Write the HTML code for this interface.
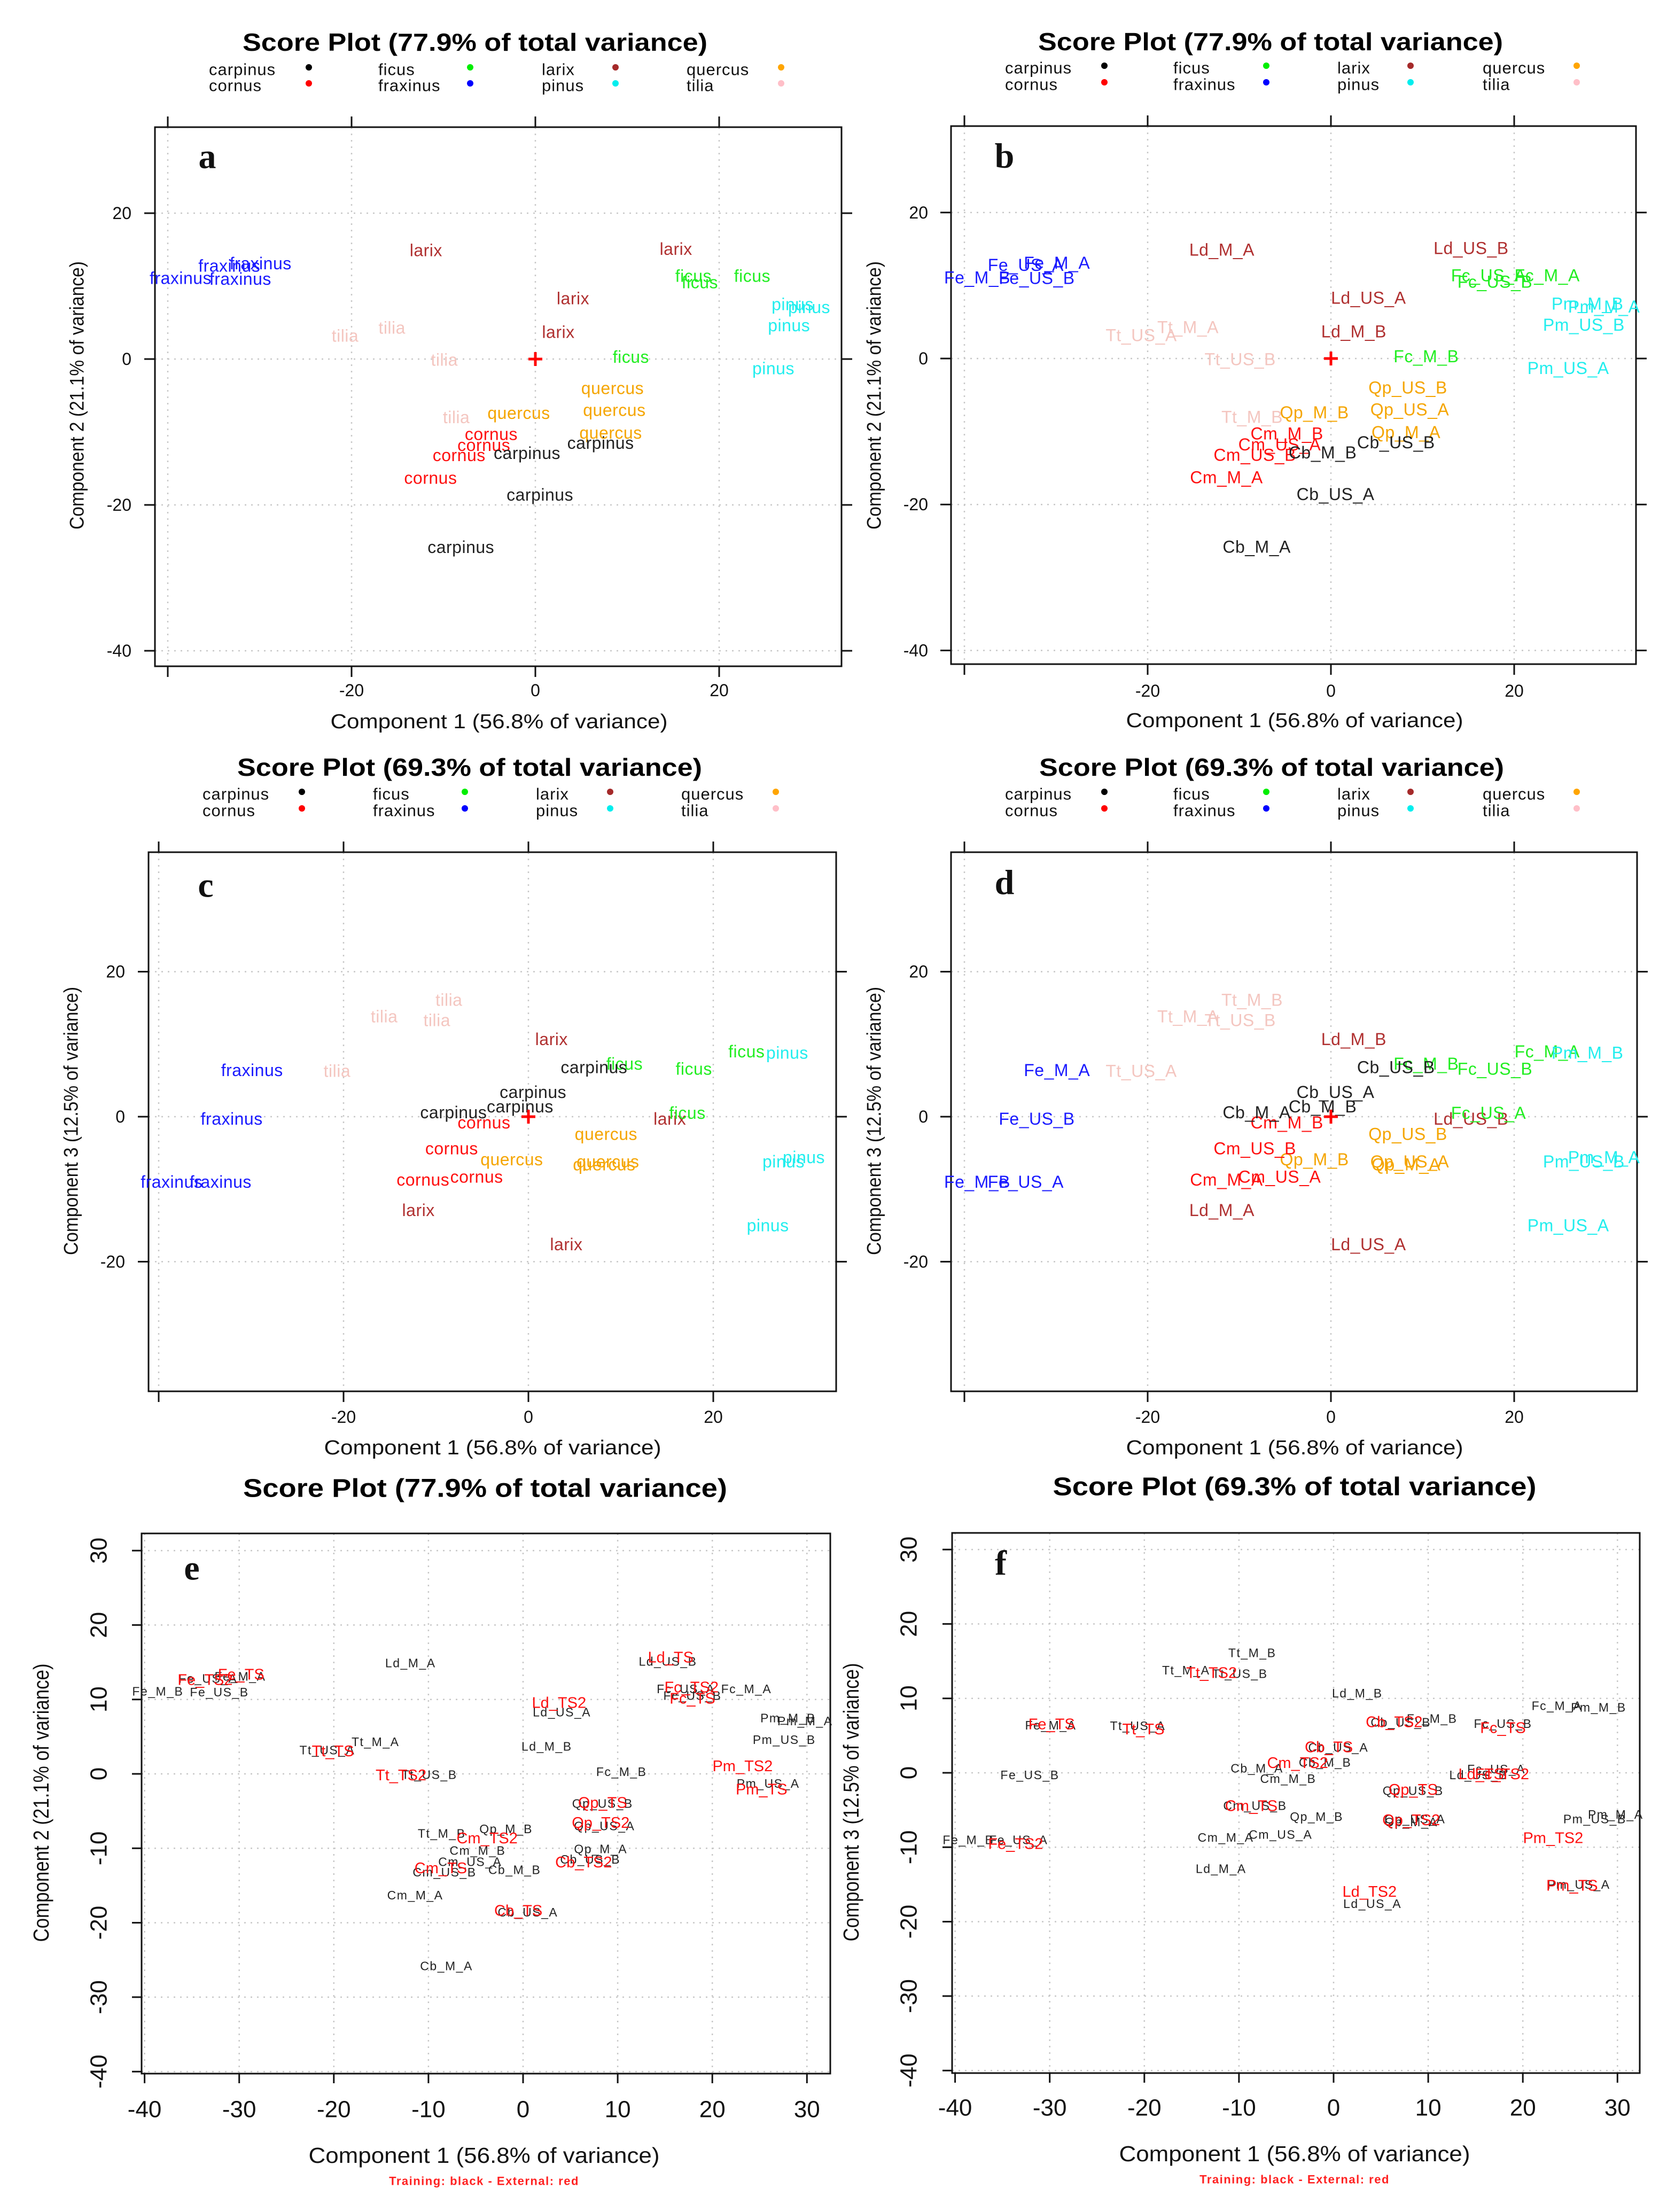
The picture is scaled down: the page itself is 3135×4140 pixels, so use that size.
<!DOCTYPE html>
<html><head><meta charset="utf-8"><style>
html,body{margin:0;padding:0;background:#fff;}
svg{display:block;font-family:"Liberation Sans",Arial,sans-serif;}
</style></head><body>
<svg id="fig" xmlns="http://www.w3.org/2000/svg" width="3135" height="4140" viewBox="0 0 3135 4140"></svg>
<script>
const codes=["Fe_M_B","Fe_US_B","Fe_US_A","Fe_M_A","Ld_M_A","Ld_US_B","Ld_US_A","Ld_M_B","Fc_US_A","Fc_US_B","Fc_M_A","Fc_M_B","Pm_M_B","Pm_M_A","Pm_US_B","Pm_US_A","Tt_US_A","Tt_M_A","Tt_US_B","Tt_M_B","Qp_M_B","Qp_US_B","Qp_US_A","Qp_M_A","Cm_M_B","Cm_US_A","Cm_US_B","Cm_M_A","Cb_M_B","Cb_US_B","Cb_US_A","Cb_M_A"];
const species=["fraxinus","fraxinus","fraxinus","fraxinus","larix","larix","larix","larix","ficus","ficus","ficus","ficus","pinus","pinus","pinus","pinus","tilia","tilia","tilia","tilia","quercus","quercus","quercus","quercus","cornus","cornus","cornus","cornus","carpinus","carpinus","carpinus","carpinus"];
const pc1=[-38.6,-32.1,-33.3,-29.9,-11.9,15.3,4.1,2.5,17.2,17.9,23.6,10.4,28.0,29.8,27.6,25.9,-20.7,-15.6,-9.9,-8.6,-1.8,8.4,8.6,8.2,-4.8,-5.6,-8.3,-11.4,-0.9,7.1,0.5,-8.1];
const pc2=[11.1,11.0,12.8,13.1,14.9,15.1,8.3,3.7,11.4,10.5,11.4,0.3,7.5,7.1,4.6,-1.3,3.2,4.3,-0.1,-8.0,-7.4,-4.0,-7.0,-10.1,-10.3,-11.8,-13.2,-16.3,-12.9,-11.5,-18.6,-25.8];
const pc3=[-9.0,-0.3,-9.0,6.4,-12.9,-0.3,-17.6,10.7,0.5,6.6,9.0,7.3,8.8,-5.6,-6.2,-15.0,6.3,13.8,13.3,16.1,-5.9,-2.4,-6.2,-6.6,-0.8,-8.3,-4.4,-8.7,1.4,6.8,3.4,0.6];
const extCodes=["Fe_TS","Fe_TS2","Ld_TS","Ld_TS2","Fc_TS2","Fc_TS","Tt_TS","Tt_TS2","Pm_TS2","Pm_TS","Qp_TS","Qp_TS2","Cm_TS2","Cm_TS","Cb_TS2","Cb_TS"];
const ext1=[-29.8,-33.6,15.6,3.8,17.8,17.9,-20.1,-12.9,23.2,25.2,8.4,8.2,-3.8,-8.7,6.4,-0.5];
const ext2=[13.3,12.6,15.6,9.5,11.6,10.1,3.0,-0.2,1.0,-2.1,-3.9,-6.6,-8.7,-12.7,-11.9,-18.4];
const ext3=[6.5,-9.6,-0.2,-16.0,-0.2,6.0,5.8,13.4,-8.8,-15.2,-2.3,-6.4,1.3,-4.5,6.8,3.4];
const legendNames=["carpinus","cornus","ficus","fraxinus","larix","pinus","quercus","tilia"];
const legendColors=["#000000","#ff0000","#00ee00","#0000ff","#a52a2a","#00eeee","#ffa500","#ffbfc8"];
const latticeTicks=[-40,-20,0,20];
const baseTicks=[-40,-30,-20,-10,0,10,20,30];

const NS="http://www.w3.org/2000/svg";
const svg=document.getElementById('fig');
function mk(tag,attrs,parent,txt){const e=document.createElementNS(NS,tag);for(const k in attrs)e.setAttribute(k,attrs[k]);if(txt!==undefined)e.textContent=txt;(parent||svg).appendChild(e);return e;}
const labelColor={carpinus:"#222",cornus:"#ff1010",ficus:"#22ee22",fraxinus:"#1a1aff",larix:"#b03030",pinus:"#22eeee",quercus:"#f5a500",tilia:"#f4c6c0"};

const panels=[
 {id:"a",L:290,R:1575,T:238,B:1247,x0:1002,xs:17.2,y0:672,ys:13.65,yt:[20,0,-20,-40],style:"lattice",ycomp:2,labels:"species",title:"Score Plot (77.9%  of total variance)",tx:889,ty:79,tw:870,legY:[130,160],legX:[391,708,1014,1285],dotX:[578,880,1152,1462],xlab:[934,1351],ylab:[144,740],ytlx:246,xtly:1292,letter:[388,293]},
 {id:"b",L:1780,R:3062,T:236,B:1243,x0:2491,xs:17.15,y0:671,ys:13.66,yt:[20,0,-20,-40],style:"lattice",ycomp:2,labels:"codes",title:"Score Plot (77.9%  of total variance)",tx:2378,ty:78,tw:870,legY:[127,158],legX:[1881,2196,2503,2775],dotX:[2067,2370,2640,2951],xlab:[2423,1349],ylab:[1636,740],ytlx:1737,xtly:1293,letter:[1880,292]},
 {id:"c",L:278,R:1565,T:1595,B:2604,x0:989,xs:17.3,y0:2090,ys:13.57,yt:[20,0,-20],style:"lattice",ycomp:3,labels:"species",title:"Score Plot (69.3%  of total variance)",tx:879,ty:1436,tw:870,legY:[1486,1517],legX:[379,698,1003,1275],dotX:[565,870,1142,1452],xlab:[922,2710],ylab:[133,2098],ytlx:234,xtly:2652,letter:[385,1657]},
 {id:"d",L:1780,R:3064,T:1595,B:2604,x0:2491,xs:17.15,y0:2090,ys:13.57,yt:[20,0,-20],style:"lattice",ycomp:3,labels:"codes",title:"Score Plot (69.3%  of total variance)",tx:2380,ty:1436,tw:870,legY:[1486,1517],legX:[1881,2196,2503,2775],dotX:[2067,2370,2640,2951],xlab:[2423,2710],ylab:[1636,2098],ytlx:1737,xtly:2652,letter:[1880,1652]},
 {id:"e",L:265,R:1554,T:2870,B:3881,x0:979,xs:17.71,y0:3320,ys:13.93,yt:baseTicks,style:"base",ycomp:2,labels:"ext",title:"Score Plot (77.9% of total variance)",tx:908,ty:2786,tw:906,xlab:[906,4034],ylab:[77,3374],ytlx:185,xtly:3948,letter:[359,2935]},
 {id:"f",L:1782,R:3069,T:2869,B:3880,x0:2496,xs:17.71,y0:3318,ys:13.93,yt:baseTicks,style:"base",ycomp:3,labels:"ext",title:"Score Plot (69.3% of total variance)",tx:2423,ty:2783,tw:905,xlab:[2423,4031],ylab:[1593,3373],ytlx:1701,xtly:3945,letter:[1873,2926]}
];

panels.forEach(p=>{
  const g=mk('g',{});
  
  
  const X=v=>p.x0+v*p.xs, Y=v=>p.y0-v*p.ys;
  const lat=p.style==="lattice";
  const xt=lat?latticeTicks:baseTicks;
  const t=mk('text',{x:p.tx,y:p.ty,'text-anchor':'middle','dominant-baseline':'central','font-size':lat?46:48,'font-weight':'bold',fill:'#000',textLength:p.tw,lengthAdjust:'spacingAndGlyphs'},g,p.title);
  
  
  if(p.legX){
    legendNames.forEach((n,i)=>{
      const col=Math.floor(i/2),row=i%2;
      const lt=mk('text',{x:p.legX[col],y:p.legY[row],'dominant-baseline':'central','font-size':31,fill:'#111','letter-spacing':'1'},g,n);
      
      
      const d=mk('circle',{cx:p.dotX[col],cy:p.legY[row]-4,r:6,fill:legendColors[i]},g);
      
      
    });
  }
  xt.forEach(v=>{const x=X(v);if(x>p.L&&x<p.R){const l=mk('line',{x1:x,x2:x,y1:p.T,y2:p.B,stroke:'#c8c8c8','stroke-width':2.5,'stroke-dasharray':'3 9'},g);}});
  p.yt.forEach(v=>{const y=Y(v);if(y>p.T&&y<p.B){const l=mk('line',{x1:p.L,x2:p.R,y1:y,y2:y,stroke:'#c8c8c8','stroke-width':2.5,'stroke-dasharray':'3 9'},g);}});
  const box=mk('rect',{x:p.L,y:p.T,width:p.R-p.L,height:p.B-p.T,fill:'none',stroke:'#111','stroke-width':3},g);
  
  
  const tl=lat?20:18;
  xt.forEach(v=>{const x=X(v);
    mk('line',{x1:x,x2:x,y1:p.B,y2:p.B+tl,stroke:'#111','stroke-width':3},g);
    if(lat)mk('line',{x1:x,x2:x,y1:p.T,y2:p.T-tl,stroke:'#111','stroke-width':3},g);
    if(lat&&v===-40)return;
    const tt=mk('text',{x:x,y:p.xtly,'text-anchor':'middle','dominant-baseline':'central','font-size':lat?32:44,fill:'#111'},g,String(v));
    
    
  });
  p.yt.forEach(v=>{const y=Y(v);
    mk('line',{x1:p.L,x2:p.L-tl,y1:y,y2:y,stroke:'#111','stroke-width':3},g);
    if(lat){
      mk('line',{x1:p.R,x2:p.R+tl,y1:y,y2:y,stroke:'#111','stroke-width':3},g);
      const tt=mk('text',{x:p.ytlx,y:y,'text-anchor':'end','dominant-baseline':'central','font-size':32,fill:'#111'},g,String(v));
      
      
    } else {
      const tt=mk('text',{x:p.ytlx,y:y,'text-anchor':'middle','dominant-baseline':'central','font-size':44,fill:'#111',transform:`rotate(-90 ${p.ytlx} ${y})`},g,String(v));
      
      
    }
  });
  const xa=mk('text',{x:p.xlab[0],y:p.xlab[1],'text-anchor':'middle','dominant-baseline':'central','font-size':lat?38:41,fill:'#111',textLength:lat?631:657,lengthAdjust:'spacingAndGlyphs'},g,'Component 1 (56.8% of variance)');
  
  
  const ya=mk('text',{x:p.ylab[0],y:p.ylab[1],'text-anchor':'middle','dominant-baseline':'central','font-size':lat?37:41,fill:'#111',textLength:lat?502:521,lengthAdjust:'spacingAndGlyphs',transform:`rotate(-90 ${p.ylab[0]} ${p.ylab[1]})`},g,'Component '+p.ycomp+(p.ycomp===2?' (21.1% of variance)':' (12.5% of variance)'));
  
  
  if(!lat){
    const st=mk('text',{x:p.xlab[0],y:p.xlab[1]+48,'text-anchor':'middle','dominant-baseline':'central','font-size':22,'font-weight':'bold',fill:'#ff2020','letter-spacing':'1.5'},g,'Training: black - External: red');
    
    
  }
  const le=mk('text',{x:p.letter[0],y:p.letter[1],'text-anchor':'middle','dominant-baseline':'central','font-size':66,'font-weight':'bold','font-family':'"Liberation Serif",serif',fill:'#111'},g,p.id);
  
  
  const ys=p.ycomp===2?pc2:pc3;
  codes.forEach((c,i)=>{
    let txt,fill,fs;
    if(p.labels==="species"){txt=species[i];fill=labelColor[species[i]];fs=32;}
    else if(p.labels==="codes"){txt=c;fill=labelColor[species[i]];fs=32;}
    else {txt=c;fill="#222";fs=23;}
    const e=mk('text',{x:X(pc1[i]),y:Y(ys[i]),'text-anchor':'middle','dominant-baseline':'central','font-size':fs,fill:fill,'letter-spacing':p.labels==="ext"?'1.5':'0.5'},g,txt);
    
    
  });
  if(p.labels==="ext"){
    const ey=p.ycomp===2?ext2:ext3;
    extCodes.forEach((c,i)=>{
      const e=mk('text',{x:X(ext1[i]),y:Y(ey[i]),'text-anchor':'middle','dominant-baseline':'central','font-size':29,fill:'#ff1010'},g,c);
      
      
    });
  } else {
    const cx=X(0),cy=Y(0);
    const pl=mk('path',{d:`M${cx-13},${cy}H${cx+13}M${cx},${cy-13}V${cy+13}`,stroke:'#ff0000','stroke-width':5},g);
    
    
  }
});
</script>
</body></html>
